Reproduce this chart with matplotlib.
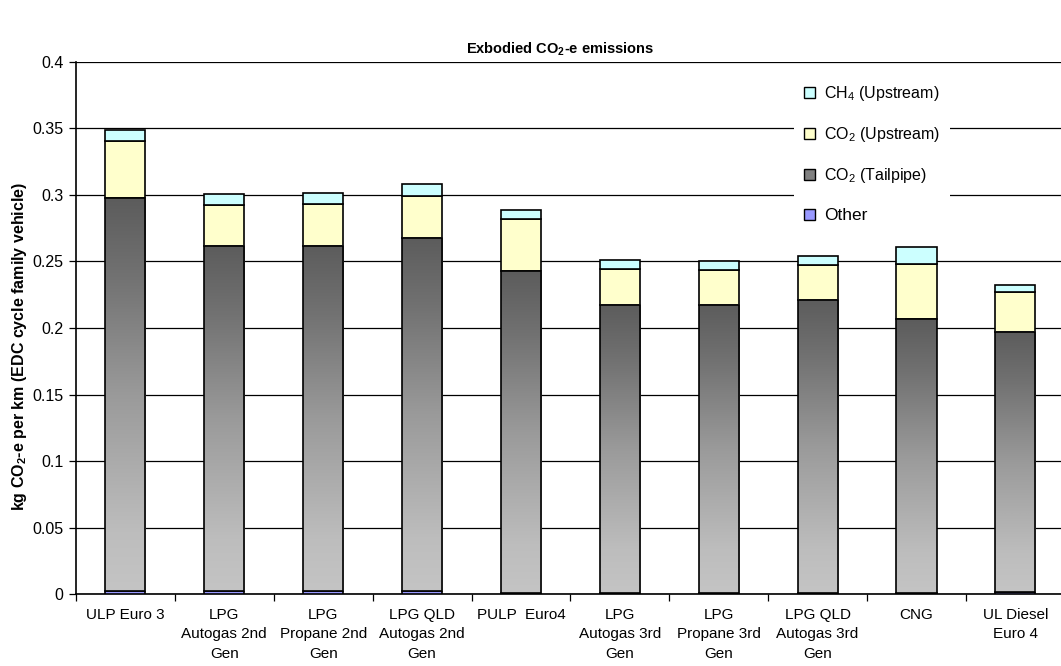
import matplotlib
matplotlib.use("Agg")
import matplotlib.pyplot as plt
import numpy as np
from matplotlib.colors import LinearSegmentedColormap
from matplotlib.patches import Patch

plt.rcParams['font.family'] = ['Liberation Sans', 'DejaVu Sans']
plt.rcParams['mathtext.fontset'] = 'custom'
plt.rcParams['mathtext.rm'] = 'Liberation Sans'
plt.rcParams['mathtext.bf'] = 'Liberation Sans:bold'

vehicles = ["ULP Euro 3", "LPG\nAutogas 2nd\nGen", "LPG\nPropane 2nd\nGen",
            "LPG QLD\nAutogas 2nd\nGen", "PULP  Euro4", "LPG\nAutogas 3rd\nGen",
            "LPG\nPropane 3rd\nGen", "LPG QLD\nAutogas 3rd\nGen", "CNG",
            "UL Diesel\nEuro 4"]

# kg CO2-e per km for each source
other = [0.0025, 0.002, 0.002, 0.002, 0.0005, 0.0005, 0.0005, 0.0005, 0.001, 0.0015]
co2_tailpipe = [0.2952, 0.2600, 0.2600, 0.2660, 0.2420, 0.2170, 0.2170, 0.2205, 0.2055, 0.1955]
co2_upstream = [0.0425, 0.0305, 0.0310, 0.0315, 0.0395, 0.0265, 0.0260, 0.0265, 0.0415, 0.0300]
ch4_upstream = [0.0090, 0.0085, 0.0085, 0.0090, 0.0070, 0.0070, 0.0070, 0.0070, 0.0130, 0.0055]

yticks = [0, 0.05, 0.1, 0.15, 0.2, 0.25, 0.3, 0.35, 0.4]
yticklabels = ["0", "0.05", "0.1", "0.15", "0.2", "0.25", "0.3", "0.35", "0.4"]

fig = plt.figure(figsize=(10.61, 6.66), dpi=100)
ax = fig.add_axes([0.0716, 0.108, 0.932, 0.799])

x = np.arange(len(vehicles))
w = 0.405
other = np.array(other)
co2_tailpipe = np.array(co2_tailpipe)
co2_upstream = np.array(co2_upstream)
ch4_upstream = np.array(ch4_upstream)

ax.bar(x, other, w, color='#9999ff', edgecolor='black', linewidth=1.2, zorder=3)
tail = ax.bar(x, co2_tailpipe, w, bottom=other, facecolor='none',
              edgecolor='black', linewidth=1.2, zorder=4)
ax.bar(x, co2_upstream, w, bottom=other + co2_tailpipe, color='#ffffcc',
       edgecolor='black', linewidth=1.2, zorder=3)
ax.bar(x, ch4_upstream, w, bottom=other + co2_tailpipe + co2_upstream,
       color='#ccffff', edgecolor='black', linewidth=1.2, zorder=3)

# tailpipe segments get a vertical grey gradient, dark at the top
grey = LinearSegmentedColormap.from_list(
    'grey', [(0, '#c4c4c4'), (0.15, '#bdbdbd'), (0.5, '#9a9a9a'),
             (0.8, '#727272'), (1, '#5c5c5c')])
grad = np.linspace(0, 1, 256).reshape(-1, 1)
for p in tail.patches:
    x0, y0 = p.get_x(), p.get_y()
    ax.imshow(grad, cmap=grey, origin='lower', aspect='auto', zorder=3,
              extent=[x0, x0 + p.get_width(), y0, y0 + p.get_height()])

ax.set_xlim(-0.5, len(vehicles) - 0.5)
ax.set_ylim(0, 0.4)
ax.set_yticks(yticks)
ax.set_yticklabels(yticklabels, fontsize=11.5)
ax.yaxis.grid(True, color='black', linewidth=0.9, zorder=0)
ax.set_axisbelow(True)

ax.set_xticks(x)
ax.set_xticklabels(vehicles, fontsize=11, linespacing=1.5)
ax.set_xticks(np.arange(len(vehicles) + 1) - 0.5, minor=True)
ax.tick_params(axis='x', which='major', length=0, pad=10)
ax.tick_params(axis='x', which='minor', length=5, width=0.9, direction='out')
ax.tick_params(axis='y', length=5, width=0.9, direction='out', pad=4)

for s in ['top', 'right']:
    ax.spines[s].set_visible(False)
ax.spines['left'].set_linewidth(1.2)
ax.spines['bottom'].set_linewidth(1.2)

ax.set_ylabel("kg CO$_\\mathbf{2}$-e per km (EDC cycle family vehicle)", fontsize=11.5,
              fontweight='bold')
ax.yaxis.set_label_coords(-0.048, 0.465)
fig.text(0.528, 0.92, "Exbodied CO$_\\mathbf{2}$-e emissions", ha='center',
         fontsize=10.5, fontweight='bold')

handles = [Patch(facecolor='#ccffff', edgecolor='black'),
           Patch(facecolor='#ffffcc', edgecolor='black'),
           Patch(facecolor='#808080', edgecolor='black'),
           Patch(facecolor='#9999ff', edgecolor='black')]
labels = ["CH$_4$ (Upstream)", "CO$_2$ (Upstream)", "CO$_2$ (Tailpipe)", "Other"]
leg = ax.legend(handles, labels, loc='upper left', bbox_to_anchor=(0.718, 0.992),
                fontsize=11.5, frameon=True, facecolor='white', edgecolor='none',
                framealpha=1, handlelength=0.7, handleheight=0.7,
                handletextpad=0.6, labelspacing=1.4, borderpad=0.6)
leg.get_texts()[3].set_fontsize(12.5)
leg.set_zorder(5)

fig.savefig("out.png", dpi=100)
